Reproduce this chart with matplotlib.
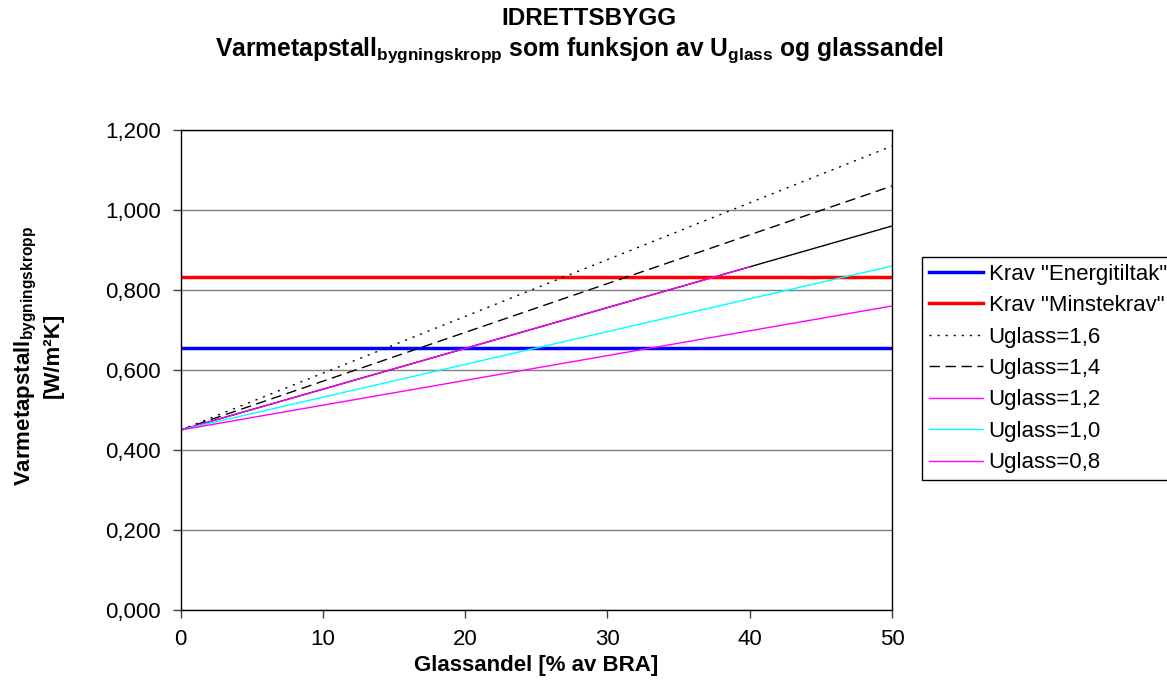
import matplotlib.pyplot as plt
from matplotlib.ticker import FuncFormatter

plt.rcParams['font.family'] = ['Liberation Sans', 'DejaVu Sans']
plt.rcParams['mathtext.fontset'] = 'custom'
plt.rcParams['mathtext.rm'] = 'Liberation Sans'
plt.rcParams['mathtext.bf'] = 'Liberation Sans:bold'

# data
glassandel = [0, 10, 20, 30, 40, 50]
krav_energitiltak = 0.656
krav_minstekrav = 0.833
u16 = [0.450, 0.592, 0.734, 0.876, 1.018, 1.160]
u14 = [0.450, 0.572, 0.694, 0.816, 0.938, 1.060]
u12_black = [0.450, 0.552, 0.654, 0.756, 0.858, 0.960]
u12 = [0.450, 0.552, 0.654, 0.756, 0.858]
u10 = [0.450, 0.532, 0.614, 0.696, 0.778, 0.860]
u08 = [0.450, 0.512, 0.574, 0.636, 0.698, 0.760]
yticks = [0.0, 0.2, 0.4, 0.6, 0.8, 1.0, 1.2]

fig = plt.figure(figsize=(11.67, 6.93), dpi=100)
ax = fig.add_axes([0.1548, 0.1198, 0.6096, 0.6926])

ax.plot(glassandel, u12_black, color='black', lw=1.0)
ax.axhline(krav_energitiltak, color='#0000FF', lw=2.5, label='Krav "Energitiltak"')
ax.axhline(krav_minstekrav, color='#FF0000', lw=2.5, label='Krav "Minstekrav"')
ax.plot(glassandel, u16, color='black', lw=1.0, linestyle=(0, (1.5, 4.3)), label='Uglass=1,6')
ax.plot(glassandel, u14, color='black', lw=1.0, linestyle=(0, (7.5, 4)), label='Uglass=1,4')
ax.plot(glassandel[:5], u12, color='#FF00FF', lw=1.0, label='Uglass=1,2')
ax.plot(glassandel, u10, color='#00FFFF', lw=1.0, label='Uglass=1,0')
ax.plot(glassandel, u08, color='#FF00FF', lw=1.0, label='Uglass=0,8')

ax.set_xlim(0, 50)
ax.set_ylim(0, 1.2)
ax.set_xticks(glassandel)
ax.set_yticks(yticks)
ax.yaxis.set_major_formatter(FuncFormatter(lambda v, p: f'{v:.3f}'.replace('.', ',')))
ax.tick_params(labelsize=16, length=6, width=1, color='#404040', pad=8)
ax.grid(axis='y', color='#808080', lw=1.0)
ax.set_axisbelow(True)
for s in ax.spines.values():
    s.set_color('black')
    s.set_linewidth(1.0)

ax.set_xlabel('Glassandel [% av BRA]', fontsize=16, fontweight='bold', labelpad=3)

fig.text(0.022, 0.487, r'Varmetapstall$_{\mathbf{bygningskropp}}$', rotation=90,
         fontsize=16, fontweight='bold', ha='center', va='center')
fig.text(0.046, 0.487, '[W/m²K]', rotation=90,
         fontsize=16, fontweight='bold', ha='center', va='center')

fig.text(0.505, 0.974, 'IDRETTSBYGG', fontsize=17.5, fontweight='bold', ha='center', va='center')
fig.text(0.497, 0.928, r'Varmetapstall$_{\mathbf{bygningskropp}}$ som funksjon av U$_{\mathbf{glass}}$ og glassandel',
         fontsize=17.7, fontweight='bold', ha='center', va='center')

leg = ax.legend(loc='upper left', bbox_to_anchor=(922 / 1167, 1 - 257 / 693),
                bbox_transform=fig.transFigure, fontsize=16, frameon=True,
                fancybox=False, edgecolor='black', framealpha=1,
                handlelength=2.45, handletextpad=0.25, labelspacing=0.47,
                borderpad=0.3, borderaxespad=0)
leg.get_frame().set_linewidth(1.0)

plt.savefig('out.png', dpi=100)
plt.close()
